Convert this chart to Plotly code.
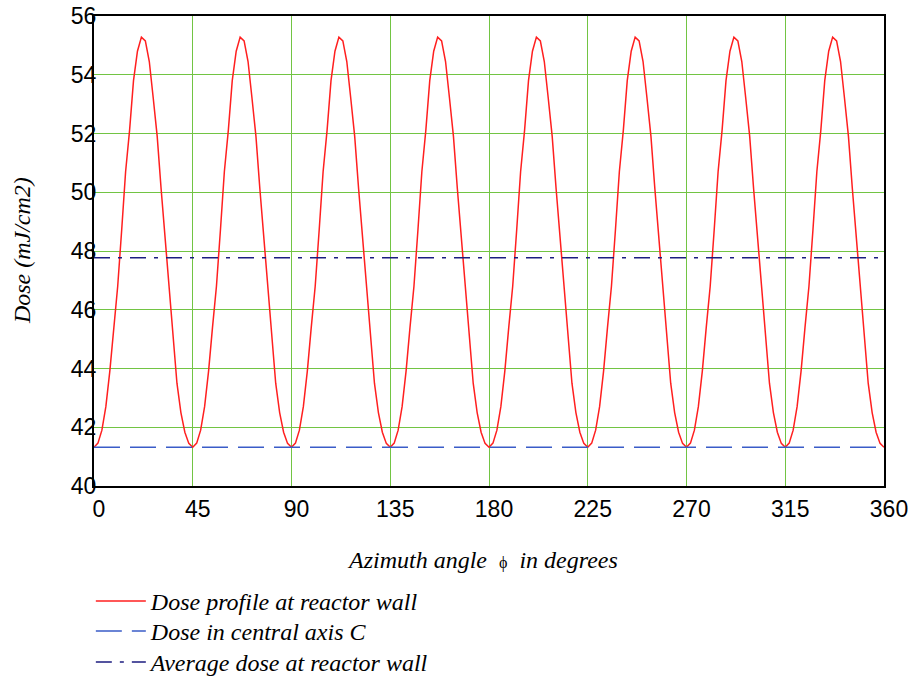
import plotly.graph_objects as go

# ---- data ----
azimuth_deg = [round(i * 1.8, 1) for i in range(201)]  # sample angles, 0..360 in 1.8 deg steps

dose_wall = [
    41.32, 41.46, 41.9, 42.7, 43.9, 45.4, 46.8, 48.7, 50.7, 52.1, 53.8, 54.8, 55.28, 55.15, 54.45, 53.2, 51.9, 50.1, 48.5, 47.0, 45.2, 43.5, 42.5, 41.83, 41.45,
    41.32, 41.46, 41.9, 42.7, 43.9, 45.4, 46.8, 48.7, 50.7, 52.1, 53.8, 54.8, 55.28, 55.15, 54.45, 53.2, 51.9, 50.1, 48.5, 47.0, 45.2, 43.5, 42.5, 41.83, 41.45,
    41.32, 41.46, 41.9, 42.7, 43.9, 45.4, 46.8, 48.7, 50.7, 52.1, 53.8, 54.8, 55.28, 55.15, 54.45, 53.2, 51.9, 50.1, 48.5, 47.0, 45.2, 43.5, 42.5, 41.83, 41.45,
    41.32, 41.46, 41.9, 42.7, 43.9, 45.4, 46.8, 48.7, 50.7, 52.1, 53.8, 54.8, 55.28, 55.15, 54.45, 53.2, 51.9, 50.1, 48.5, 47.0, 45.2, 43.5, 42.5, 41.83, 41.45,
    41.32, 41.46, 41.9, 42.7, 43.9, 45.4, 46.8, 48.7, 50.7, 52.1, 53.8, 54.8, 55.28, 55.15, 54.45, 53.2, 51.9, 50.1, 48.5, 47.0, 45.2, 43.5, 42.5, 41.83, 41.45,
    41.32, 41.46, 41.9, 42.7, 43.9, 45.4, 46.8, 48.7, 50.7, 52.1, 53.8, 54.8, 55.28, 55.15, 54.45, 53.2, 51.9, 50.1, 48.5, 47.0, 45.2, 43.5, 42.5, 41.83, 41.45,
    41.32, 41.46, 41.9, 42.7, 43.9, 45.4, 46.8, 48.7, 50.7, 52.1, 53.8, 54.8, 55.28, 55.15, 54.45, 53.2, 51.9, 50.1, 48.5, 47.0, 45.2, 43.5, 42.5, 41.83, 41.45,
    41.32, 41.46, 41.9, 42.7, 43.9, 45.4, 46.8, 48.7, 50.7, 52.1, 53.8, 54.8, 55.28, 55.15, 54.45, 53.2, 51.9, 50.1, 48.5, 47.0, 45.2, 43.5, 42.5, 41.83, 41.45,
    41.32,
]

central_axis_dose = 41.32   # "Dose in central axis C"
average_wall_dose = 47.77   # "Average dose at reactor wall"

x_range = [0, 360]
x_ticks = [0, 45, 90, 135, 180, 225, 270, 315, 360]
y_range = [40, 56]
y_ticks = [40, 42, 44, 46, 48, 50, 52, 54, 56]

series_names = [
    "Dose profile at reactor wall",
    "Dose in central axis C",
    "Average dose at reactor wall",
]
x_title = "Azimuth angle  <span style='font-size:16px;font-style:normal'>ϕ</span>  in degrees"
y_title = "Dose (mJ/cm2)"

# ---- figure ----
fig = go.Figure()

fig.add_trace(go.Scatter(
    x=azimuth_deg, y=dose_wall, mode="lines", name=series_names[0],
    line=dict(color="#ff1f1f", width=1.5), legend="legend",
))
fig.add_trace(go.Scatter(
    x=x_range, y=[central_axis_dose, central_axis_dose], mode="lines", name=series_names[1],
    line=dict(color="#3a5cc8", width=1.5, dash="26px,10px"), legend="legend2",
))
fig.add_trace(go.Scatter(
    x=x_range, y=[average_wall_dose, average_wall_dose], mode="lines", name=series_names[2],
    line=dict(color="#1c1c80", width=1.5, dash="16px,8px,4px,8px"), legend="legend3",
))

num_font = dict(family="Liberation Sans, Arial, sans-serif", size=23, color="black")
serif_it = dict(family="Liberation Serif, Times New Roman, serif", size=24, color="black", style="italic")


def legend_box(ypos):
    return dict(
        x=-0.004, xref="paper", y=ypos, yref="paper", xanchor="left", yanchor="top",
        font=serif_it, bgcolor="rgba(0,0,0,0)", itemwidth=50,
    )


fig.update_layout(
    width=913, height=678,
    margin=dict(l=94, r=29, t=16, b=192, autoexpand=False),
    paper_bgcolor="white", plot_bgcolor="white",
    showlegend=True,
    legend=legend_box(-0.1979),
    legend2=legend_box(-0.2617),
    legend3=legend_box(-0.3277),
    xaxis=dict(
        range=x_range, tickmode="array", tickvals=x_ticks,
        showgrid=True, gridcolor="#72c443", gridwidth=1,
        showline=True, linecolor="black", linewidth=2, mirror=True,
        ticks="", tickfont=num_font, zeroline=False, automargin=False,
        ticklabelstandoff=1, ticklabelshift=5, ticklabeloverflow="allow",
    ),
    yaxis=dict(
        range=y_range, tickmode="array", tickvals=y_ticks,
        showgrid=True, gridcolor="#72c443", gridwidth=1,
        showline=True, linecolor="black", linewidth=2, mirror=True,
        ticks="", tickfont=num_font, zeroline=False, automargin=False,
        ticklabelstandoff=-9, ticklabeloverflow="allow",
    ),
    annotations=[
        dict(text=x_title, x=0.4924, y=-0.157, xref="paper", yref="paper",
             xanchor="center", yanchor="middle", showarrow=False, font=serif_it),
        dict(text=y_title, x=-0.091, y=0.5, xref="paper", yref="paper",
             xanchor="center", yanchor="middle", textangle=-90, showarrow=False, font=serif_it),
    ],
)

fig.write_html(
    "out.html",
    config={"displayModeBar": False},
    post_script="document.body.style.margin='0px';document.body.style.overflow='hidden';",
)
